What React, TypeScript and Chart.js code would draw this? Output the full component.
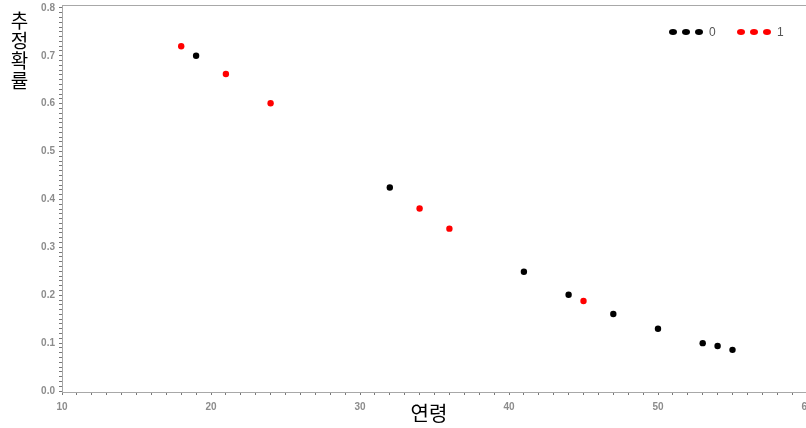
import React, { useEffect, useRef } from "react";
import { Chart, registerables } from "chart.js";

Chart.register(...registerables);

// Data
const ages0: number[] = [19, 32, 41, 44, 47, 50, 53, 54, 55];
const probs0: number[] = [0.7, 0.425, 0.249, 0.201, 0.161, 0.13, 0.1, 0.094, 0.086];
const ages1: number[] = [18, 21, 24, 34, 36, 45];
const probs1: number[] = [0.72, 0.662, 0.601, 0.381, 0.339, 0.188];

const groupLabels: string[] = ["0", "1"];
const groupColors: string[] = ["#000000", "#ff0000"];

const xTickValues: number[] = Array.from({ length: 51 }, (_, i) => 10 + i);
const yTickValues: number[] = Array.from({ length: 81 }, (_, i) => i / 100);

const xTitle = "연령";
const yTitle = "추정확률";

const tickFont = { family: "'Liberation Sans Narrow', 'Liberation Sans', sans-serif", size: 10, weight: "bold" as const };
const tickGray = "#8c8c8c";

const framePlugin = {
  id: "frame",
  beforeDatasetsDraw(chart: any) {
    const { ctx, chartArea } = chart;
    ctx.save();
    ctx.strokeStyle = "#a8a8a8";
    ctx.lineWidth = 1;
    ctx.strokeRect(chartArea.left + 0.5, chartArea.top + 0.5, chartArea.right - chartArea.left, chartArea.bottom - chartArea.top);
    ctx.restore();
  },
};

const dotsLegendPlugin = {
  id: "dotsLegend",
  afterDraw(chart: any) {
    const { ctx, chartArea } = chart;
    const y = chartArea.top + 27;
    let x = chartArea.right - 134;
    ctx.save();
    chart.data.datasets.forEach((ds: any) => {
      ctx.fillStyle = ds.backgroundColor;
      for (let k = 0; k < 3; k++) {
        ctx.beginPath();
        ctx.ellipse(x + k * 13, y, 4, 3, 0, 0, Math.PI * 2);
        ctx.fill();
      }
      ctx.fillStyle = "#555555";
      ctx.font = "12px 'Liberation Sans Narrow', 'Liberation Sans', sans-serif";
      ctx.textBaseline = "middle";
      ctx.textAlign = "left";
      ctx.fillText(ds.label, x + 36, y + 1);
      x += 68;
    });
    ctx.restore();
  },
};

export default function App() {
  const canvasRef = useRef<HTMLCanvasElement | null>(null);

  useEffect(() => {
    if (!canvasRef.current) return;
    const chart = new Chart(canvasRef.current, {
      type: "scatter",
      data: {
        datasets: [
          {
            label: groupLabels[0],
            data: ages0.map((a, i) => ({ x: a, y: probs0[i] })),
            backgroundColor: groupColors[0],
            borderColor: groupColors[0],
            borderWidth: 0,
            pointRadius: 3.2,
          },
          {
            label: groupLabels[1],
            data: ages1.map((a, i) => ({ x: a, y: probs1[i] })),
            backgroundColor: groupColors[1],
            borderColor: groupColors[1],
            borderWidth: 0,
            pointRadius: 3.2,
          },
        ],
      },
      options: {
        animation: false,
        responsive: true,
        maintainAspectRatio: false,
        layout: { padding: { top: 5, left: 0, right: 5, bottom: 0 } },
        plugins: { legend: { display: false }, tooltip: { enabled: false } },
        scales: {
          x: {
            type: "linear",
            min: 10,
            max: 60,
            afterBuildTicks: (scale: any) => {
              scale.ticks = xTickValues.map((v) => ({ value: v }));
            },
            afterFit: (scale: any) => {
              scale.height = 36;
              scale.paddingLeft = 0;
              scale.paddingRight = 0;
            },
            ticks: {
              autoSkip: false,
              maxRotation: 0,
              minRotation: 0,
              padding: 6,
              color: tickGray,
              font: tickFont,
              callback: (v: any) => (Number(v) % 10 === 0 ? String(v) : ""),
            },
            grid: { drawOnChartArea: false, drawTicks: true, tickLength: 3, tickColor: "#777777" },
            border: { display: true, color: "#9a9a9a" },
          },
          y: {
            type: "linear",
            min: -0.002,
            max: 0.806,
            afterBuildTicks: (scale: any) => {
              scale.ticks = yTickValues.map((v) => ({ value: v }));
            },
            afterFit: (scale: any) => {
              scale.width = 62;
              scale.paddingTop = 0;
              scale.paddingBottom = 0;
            },
            ticks: {
              autoSkip: false,
              padding: 4,
              color: tickGray,
              font: tickFont,
              callback: (v: any, i: number) => (i % 10 === 0 ? Number(v).toFixed(1) : ""),
            },
            grid: { drawOnChartArea: false, drawTicks: true, tickLength: 3, tickColor: "#777777" },
            border: { display: true, color: "#9a9a9a" },
          },
        },
      },
      plugins: [framePlugin, dotsLegendPlugin],
    } as any);
    return () => chart.destroy();
  }, []);

  return (
    <div style={{ position: "fixed", left: 0, top: 0, width: 806, height: 428, overflow: "hidden", background: "#ffffff" }}>
      <div style={{ position: "absolute", left: 0, top: 0, width: 812, height: 428 }}>
        <canvas ref={canvasRef} />
      </div>
      <div
        style={{
          position: "absolute",
          left: 10,
          top: 11,
          writingMode: "vertical-rl",
          fontFamily: "'Noto Sans CJK KR', sans-serif",
          fontSize: 19,
          lineHeight: "19px",
          letterSpacing: 1,
          color: "#000",
        }}
      >
        {yTitle}
      </div>
      <div
        style={{
          position: "absolute",
          left: 329,
          width: 200,
          top: 400,
          textAlign: "center",
          fontFamily: "'Noto Sans CJK KR', sans-serif",
          fontSize: 20,
          lineHeight: "26px",
          color: "#000",
        }}
      >
        {xTitle}
      </div>
    </div>
  );
}
